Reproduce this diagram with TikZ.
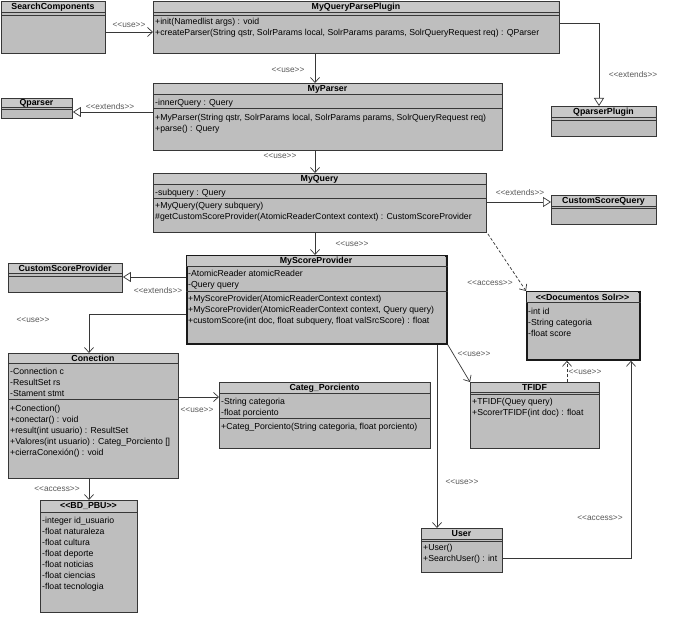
\documentclass[tikz,border=0pt]{standalone}
\usepackage{fontspec}
\setmainfont{Liberation Sans}
\usetikzlibrary{arrows.meta,calc}
\definecolor{boxfill}{RGB}{190,190,190}
\definecolor{hdrfill}{RGB}{200,200,200}
\definecolor{lnc}{RGB}{55,55,55}
\tikzset{
 clsbox/.style={draw=lnc, fill=boxfill, line width=0.9pt, inner sep=0pt},
 thickbox/.style={line width=1.8pt, draw=black!90},
 divl/.style={draw=lnc, line width=0.6pt},
 hdr/.style={font=\fontsize{8.8}{10}\selectfont\bfseries, inner sep=0pt},
 cmp/.style={font=\fontsize{8.7}{11}\selectfont, align=left, anchor=north west, inner sep=0pt, yshift=-1.5pt},
 lbl/.style={font=\fontsize{8.3}{9}\selectfont, text=black!65, inner sep=0pt},
 conn/.style={draw=lnc, line width=0.7pt},
 usearrow/.style={conn, -{Straight Barb[length=5pt,width=9pt]}},
 extarrow/.style={conn, -{Triangle[open,length=8pt,width=10pt,fill=white]}},
 accarrow/.style={conn, dash pattern=on 3pt off 2pt, -{Straight Barb[length=5pt,width=9pt]}},
}
\newcommand\st[1]{<\kern0pt<#1>\kern0pt>}
% [style] name x y w h headerline title
\newcommand\umlcls[8][]{%
 \node[clsbox,#1,minimum width=#5pt,minimum height=#6pt,anchor=north west] (#2) at (#3,#4) {};
 \fill[hdrfill] (#3+0.8,#4+0.8) rectangle (#3+#5-0.8,#7);
 \draw[divl] (#2.west |- 0,#7) -- (#2.east |- 0,#7);
 \node[hdr] (#2-t) at (#3+#5/2,{(#4+#7)/2+0.5}) {#8};
}
\newcommand\dv[2]{\draw[divl] (#1.west |- 0,#2) -- (#1.east |- 0,#2);}
\begin{document}
\begin{tikzpicture}[x=1pt,y=-1pt]
\fill[white] (0,0) rectangle (674,620);
\useasboundingbox (0,0) rectangle (674,620);

% classes
\umlcls{sc}{1}{1}{104}{52}{12}{SearchComponents}
\dv{sc}{15}
\umlcls{mqpp}{153}{1}{406}{52}{12}{MyQueryParsePlugin}
\dv{mqpp}{15}
\node[cmp] (mqpp-m) at (155,16) {+init(Namedlist args) : void\\+createParser(String qstr, SolrParams local, SolrParams params, SolrQueryRequest req) : QParser};

\umlcls{qpp}{551}{106}{105}{30}{117}{QparserPlugin}
\dv{qpp}{120}

\umlcls{mp}{153}{83}{349}{67}{94}{MyParser}
\dv{mp}{108}
\node[cmp] (mp-a) at (155,97) {-innerQuery : Query};
\node[cmp] (mp-m) at (155,112) {+MyParser(String qstr, SolrParams local, SolrParams params, SolrQueryRequest req)\\+parse() : Query};

\umlcls{qp}{1}{98}{71}{20}{107}{Qparser}
\dv{qp}{109}

\umlcls{mq}{153}{173}{333}{59}{184}{MyQuery}
\dv{mq}{198}
\node[cmp] (mq-a) at (155,187) {-subquery : Query};
\node[cmp] (mq-m) at (155,200) {+MyQuery(Query subquery)\\\#getCustomScoreProvider(AtomicReaderContext context) : CustomScoreProvider};

\umlcls{csq}{551}{195}{105}{29}{206}{CustomScoreQuery}
\dv{csq}{208}

\umlcls[thickbox]{msp}{186}{255}{260}{88}{266}{MyScoreProvider}
\dv{msp}{291}
\node[cmp] (msp-a) at (188,268) {-AtomicReader atomicReader\\-Query query};
\node[cmp] (msp-m) at (188,293) {+MyScoreProvider(AtomicReaderContext context)\\+MyScoreProvider(AtomicReaderContext context, Query query)\\+customScore(int doc, float subquery, float valSrcScore) : float};

\umlcls{csp}{8}{263}{114}{29}{273}{CustomScoreProvider}
\dv{csp}{276}

\umlcls[thickbox]{ds}{526}{291}{113}{68}{302}{\st{Documentos Solr}}
\node[cmp] (ds-a) at (528,306) {-int id\\-String categoria\\-float score};

\umlcls{con}{8}{353}{170}{125}{363}{Conection}
\dv{con}{399}
\node[cmp] (con-a) at (10,366) {-Connection c\\-ResultSet rs\\-Stament stmt};
\node[cmp] (con-m) at (10,403) {+Conection()\\+conectar() : void\\+result(int usuario) : ResultSet\\+Valores(int usuario) : Categ\_Porciento []\\+cierraConexión() : void};

\umlcls{cp}{219}{382}{211}{66}{393}{Categ\_Porciento}
\dv{cp}{418}
\node[cmp] (cp-a) at (221,396) {-String categoria\\-float porciento};
\node[cmp] (cp-m) at (221,421) {+Categ\_Porciento(String categoria, float porciento)};

\umlcls{tf}{470}{382}{129}{66}{392}{TFIDF}
\dv{tf}{394}
\node[cmp] (tf-m) at (472,396) {+TFIDF(Quey query)\\+ScorerTFIDF(int doc) : float};

\umlcls{bd}{40}{500}{97}{112}{512}{\st{BD\_PBU}}
\node[cmp] (bd-a) at (42,515) {-integer id\_usuario\\-float naturaleza\\-float cultura\\-float deporte\\-float noticias\\-float ciencias\\-float tecnologia};

\umlcls{us}{421}{528}{81}{44}{539}{User}
\dv{us}{541}
\node[cmp] (us-m) at (423,542) {+User()\\+SearchUser() : int};

% connectors
\draw[usearrow] (sc.east |- 0,32) -- (mqpp.west |- 0,32);
\draw[extarrow] (mqpp.east |- 0,23) -- (599,23) -- (599,0 |- qpp.north);
\draw[usearrow] (mqpp.south -| 315,0) -- (mp.north -| 315,0);
\draw[extarrow] (mp.west |- 0,112) -- (qp.east |- 0,112);
\draw[usearrow] (mp.south -| 315,0) -- (mq.north -| 315,0);
\draw[extarrow] (mq.east |- 0,202) -- (csq.west |- 0,202);
\draw[usearrow] (mq.south -| 315,0) -- (msp.north -| 315,0);
\draw[accarrow] ([xshift=1pt,yshift=-1pt]mq.south east) -- (ds.north west);
\draw[extarrow] (msp.west |- 0,277) -- (csp.east |- 0,277);
\draw[usearrow] (msp.west |- 0,314) -- (89,314) -- (89,0 |- con.north);
\draw[usearrow] (con.east |- 0,397) -- (cp.west |- 0,397);
\draw[usearrow] (con.south -| 89,0) -- (bd.north -| 89,0);
\draw[usearrow] (msp.south east) -- (tf.north west);
\draw[usearrow] (msp.south -| 437,0) -- (us.north -| 437,0);
\draw[accarrow] (tf.north -| 567,0) -- (ds.south -| 567,0);
\draw[usearrow] (us.east |- 0,558) -- (631,558) -- (631,0 |- ds.south);

% labels
\node[lbl] at (129,25) {\st{use}};
\node[lbl] at (633,75) {\st{extends}};
\node[lbl] at (288,70) {\st{use}};
\node[lbl] at (110,107) {\st{extends}};
\node[lbl] at (280,156) {\st{use}};
\node[lbl] at (520,193) {\st{extends}};
\node[lbl] at (352,244) {\st{use}};
\node[lbl] at (490,283) {\st{access}};
\node[lbl] at (158,291) {\st{extends}};
\node[lbl] at (33,320) {\st{use}};
\node[lbl] at (197,410) {\st{use}};
\node[lbl] at (57,489) {\st{access}};
\node[lbl] at (474,354) {\st{use}};
\node[lbl] at (585,372) {\st{use}};
\node[lbl] at (462,482) {\st{use}};
\node[lbl] at (600,518) {\st{access}};
\end{tikzpicture}
\end{document}
